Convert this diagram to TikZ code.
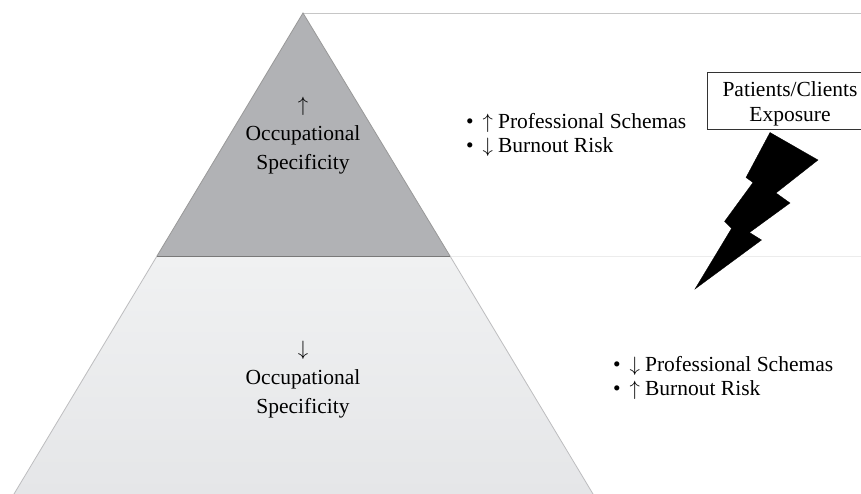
\documentclass[tikz,border=0pt]{standalone}
\usepackage{fontspec}
\setmainfont{Liberation Serif}
\newcommand{\up}{$\uparrow$}
\newcommand{\down}{$\downarrow$}
\begin{document}
\begin{tikzpicture}[x=1pt,y=-1pt,
  label/.style={font=\fontsize{21.5}{29}\selectfont, align=center, inner sep=0pt},
  bullets/.style={font=\fontsize{21.5}{24.5}\selectfont, align=left, inner sep=0pt, anchor=west},
  guide/.style={draw=#1, line width=0.8pt},
  bolt/.style={fill=black, draw=black, line width=0.3pt, line join=miter}]
\useasboundingbox (0,0) rectangle (861,494);
\clip (0,0) rectangle (861,494);
\fill[white] (0,0) rectangle (861,494);
\definecolor{topgray}{HTML}{B1B2B5}
\definecolor{lowtop}{HTML}{F0F1F2}
\definecolor{lowbot}{HTML}{E5E6E8}
\definecolor{edgegray}{HTML}{BDBDBF}

% pyramid corners
\coordinate (apex) at (303,13);
\coordinate (ml) at (157,256);
\coordinate (mr) at (450,256);
\coordinate (bl) at (14,494);
\coordinate (br) at (593,494);
\coordinate (topend) at (861,13);
\coordinate (midend) at (861,256);

% guide lines to the right edge
\draw[guide=gray!45] (apex) -- (topend);
\draw[guide=gray!15] (mr) -- (midend);

% lower tier
\shade[top color=lowtop, bottom color=lowbot] (ml) -- (mr) -- (br) -- (bl) -- cycle;
\draw[edgegray, line width=0.8pt] (ml) -- (bl) (mr) -- (br);
% upper tier
\fill[topgray] (apex) -- (mr) -- (ml) -- cycle;
\draw[gray!80, line width=0.8pt] (ml) -- (apex) -- (mr);
\draw[gray!95!black, line width=1pt] (ml) -- (mr);

% tier labels
\node[label] (uplab) at (303,136) {\up\\Occupational\\Specificity};
\node[label] (lowlab) at (303,380) {\down\\Occupational\\Specificity};

% outcome lists
\node[bullets] (uplist) at (466,135) {•\hspace{9pt}\up\hspace{5pt}Professional Schemas\\•\hspace{9pt}\down\hspace{5pt}Burnout Risk};
\node[bullets] (lowlist) at (613,378) {•\hspace{9pt}\down\hspace{5pt}Professional Schemas\\•\hspace{9pt}\up\hspace{5pt}Burnout Risk};

% exposure box and its caption
\node[draw=black!80, line width=0.8pt, fill=white, minimum width=166pt, minimum height=57pt,
      inner sep=0pt] (exposure) at (790,101) {};
\node[font=\fontsize{21.5}{25}\selectfont, align=center, inner sep=0pt] (exptext)
      at ([yshift=-3pt]exposure.center) {Patients/Clients\\Exposure};

% lightning bolt
\fill[bolt] (770,132.5) -- (818,160) -- (776,193) -- (790,203) -- (749.5,232.5)
  -- (761.5,240) -- (695,289) -- (731.5,228.5) -- (724.5,221.5) -- (753,182.5)
  -- (746,177.5) -- cycle;
\end{tikzpicture}
\end{document}
